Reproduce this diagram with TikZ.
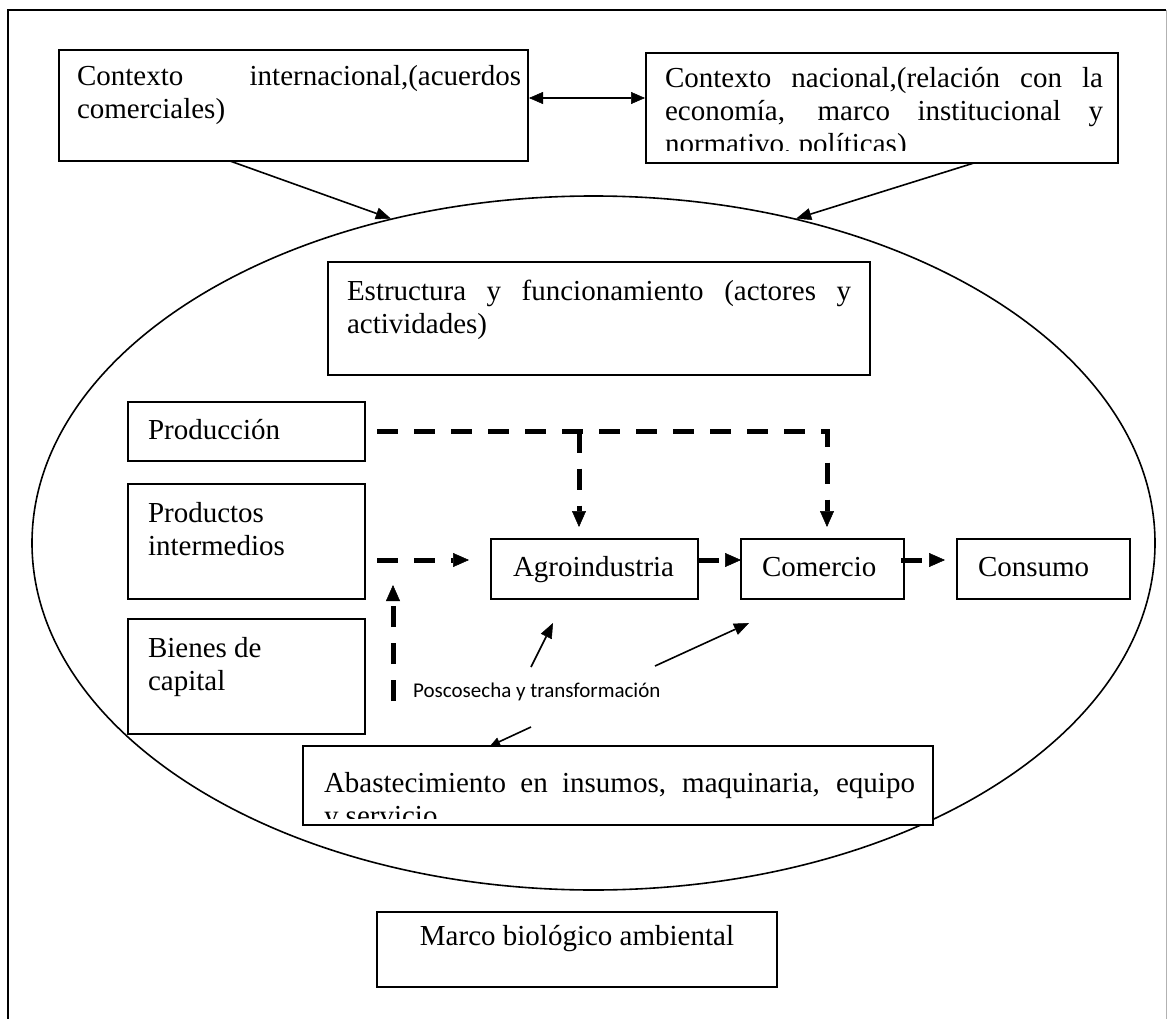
\documentclass[tikz,border=0pt]{standalone}
\usepackage{fontspec}
\setmainfont{Liberation Serif}
\newfontfamily\calibfont{Carlito}
\usetikzlibrary{arrows.meta,shapes.geometric,calc}
% width, height, left pad, text width, first baseline, text
\newcommand\tb[6]{\parbox[c][#2pt][t]{#1pt}{\hspace*{#3pt}\parbox[t]{#4pt}{\rule{0pt}{#5pt}#6}}}
\tikzset{
  bx/.style={draw, fill=white, line width=1.5pt, inner sep=0pt, outer sep=0pt, anchor=north west,
    font=\fontsize{29pt}{33pt}\selectfont},
  sarr/.style={line width=1.6pt, -{Triangle[length=15pt,width=12pt,line width=0.5pt]}},
  sarrsmall/.style={line width=1.6pt, -{Triangle[length=10pt,width=9pt,line width=0.5pt]}},
  darr/.style={line width=5pt, dash pattern=on 21pt off 16pt,
    -{Triangle[length=16pt,width=14pt,line width=0.5pt]}},
  darrtwo/.style={line width=1.6pt,
    {Triangle[length=14pt,width=12pt,line width=0.5pt]}-{Triangle[length=14pt,width=12pt,line width=0.5pt]}}
}
\begin{document}
\begin{tikzpicture}[x=1pt,y=-1pt]
\useasboundingbox (0,0) rectangle (1167,1019);
% outer frame (open at the bottom)
\draw[line width=1.5pt] (8,1019) -- (8,10) -- (1166,10);
\draw[gray!60, line width=1pt] (1166,10) -- (1166,1019);

% ellipse
\node[draw, ellipse, line width=1.6pt, minimum width=1123pt, minimum height=694pt, inner sep=0pt] (ell) at (593.5,543) {};

% top context boxes
\node[bx] (ctxint) at (59,50) {\tb{469}{111}{18}{444}{36}{\makebox[\linewidth][s]{Contexto internacional,(acuerdos}\\comerciales)}};
\begin{scope}
  \clip (646,53) rectangle (1118,151);
  \node[bx, draw=none] (ctxnac) at (646,53) {\tb{472}{110}{19}{438}{35}{\makebox[\linewidth][s]{Contexto nacional,(relación con la}\\\makebox[\linewidth][s]{economía, marco institucional y}\\normativo, políticas)}};
\end{scope}
\draw[line width=1.5pt] (ctxnac.north west) rectangle (ctxnac.south east);

% structure box
\node[bx] (estr) at (328,262) {\tb{542}{113}{19}{504}{38}{\makebox[\linewidth][s]{Estructura y funcionamiento (actores y}\\actividades)}};

% left column
\node[bx] (prod) at (128,402) {\tb{237}{59}{20}{210}{37}{Producción}};
\node[bx] (pint) at (128,484) {\tb{237}{115}{20}{210}{38}{Productos\\intermedios}};
\node[bx] (bien) at (128,619) {\tb{237}{115}{20}{210}{38}{Bienes de\\capital}};

% chain
\node[bx] (agro) at (491,539) {\tb{207}{60}{22}{180}{37}{Agroindustria}};
\node[bx] (com) at (741,539) {\tb{163}{60}{21}{140}{37}{Comercio}};
\node[bx] (cons) at (957,539) {\tb{173}{60}{21}{150}{37}{Consumo}};

% supply box (text clipped at the bottom)
\node[bx] (abast) at (303,746) {\tb{630}{79}{21}{591}{46}{}};
\begin{scope}
  \clip (abast.north west) rectangle ($(abast.south east)+(0,-7)$);
  \node[bx, draw=none, fill=none] (abastt) at (303,746) {\tb{630}{79}{21}{591}{46}{\makebox[\linewidth][s]{Abastecimiento en insumos, maquinaria, equipo}\\y servicio}};
\end{scope}

% environment box
\node[bx] (marco) at (377,912) {\tb{400}{75}{0}{400}{33}{\centering Marco biológico ambiental}};

% label
\node[anchor=base west, inner sep=0pt, font=\calibfont\fontsize{21pt}{25pt}\selectfont] (pos) at (413,697) {Poscosecha y transformación};

% solid connectors
\draw[darrtwo] ($(ctxint.north east)+(1,48)$) -- ($(ctxnac.north west)+(-1,45)$);
\draw[sarr] ($(ctxint.south west)+(171,0)$) -- (ell.122.5);
\draw[sarr] ($(ctxnac.south west)+(328,0)$) -- (ell.58.8);
\coordinate (p1s) at (531,667);
\coordinate (p2s) at (655,666);
\coordinate (p3s) at (531,727);
\draw[sarr] (p1s) -- ($(agro.south west)+(62,24)$);
\draw[sarr] (p2s) -- ($(com.south west)+(8,24)$);
\draw[sarrsmall] (p3s) -- ($(abast.north west)+(187,0)$);

% dashed connectors
\draw[darr] ($(prod.east)+(12,0)$) -| ($(com.north)+(4.5,-12)$);
\draw[darr] ($(prod.east)+(214,0)$) -- ($(agro.north)+(-15.5,-12)$);
\draw[darr] ($(pint.east)+(12,18.5)$) -- ($(agro.west)+(-22,-9)$);
\draw[darr] ($(agro.east)+(0,-9)$) -- ($(com.west)+(0,-9)$);
\draw[darr] ($(com.east)+(-3,-9)$) -- ($(cons.west)+(-12,-9)$);
\coordinate (vb) at (393,701);
\draw[darr] (vb) -- ($(pint.south west)+(265,-14)$);
\end{tikzpicture}
\end{document}
